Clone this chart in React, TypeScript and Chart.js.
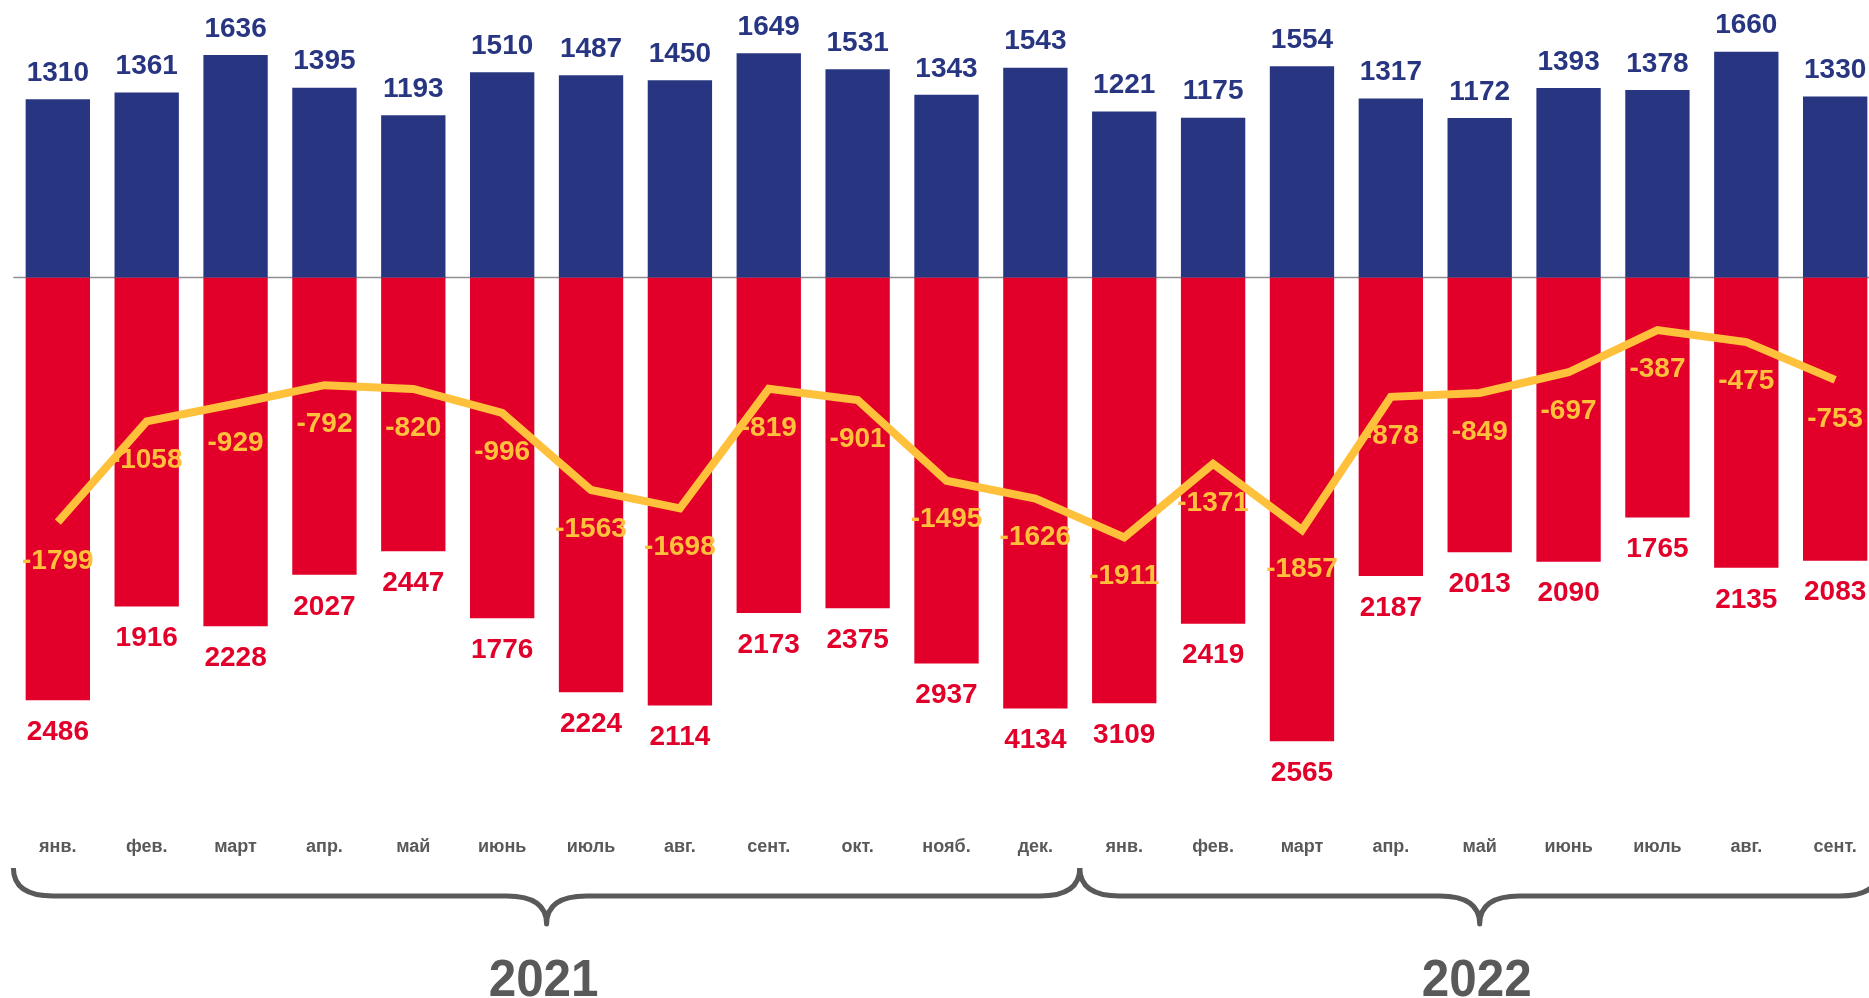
import React, { useEffect, useRef } from 'react';
import { Chart, registerables } from 'chart.js';

Chart.register(...registerables);

// ---- data ----
const months = ['янв.', 'фев.', 'март', 'апр.', 'май', 'июнь', 'июль', 'авг.', 'сент.', 'окт.', 'нояб.', 'дек.',
  'янв.', 'фев.', 'март', 'апр.', 'май', 'июнь', 'июль', 'авг.', 'сент.'];
const years = ['2021', '2022'];
const yearMonthCounts = [12, 9];
const exportValues = [1310, 1361, 1636, 1395, 1193, 1510, 1487, 1450, 1649, 1531, 1343, 1543,
  1221, 1175, 1554, 1317, 1172, 1393, 1378, 1660, 1330];
const importValues = [-3109, -2419, -2565, -2187, -2013, -2506, -3050, -3148, -2468, -2432, -2838, -3169,
  -3132, -2546, -3411, -2195, -2021, -2090, -1765, -2135, -2083];
const importLabels = ['2486', '1916', '2228', '2027', '2447', '1776', '2224', '2114', '2173', '2375', '2937', '4134',
  '3109', '2419', '2565', '2187', '2013', '2090', '1765', '2135', '2083'];
const balanceValues = [-1799, -1058, -929, -792, -820, -996, -1563, -1698, -819, -901, -1495, -1626,
  -1911, -1371, -1857, -878, -849, -697, -387, -475, -753];

const BLUE = '#283682';
const RED = '#E2002B';
const YELLOW = '#FFC13B';
const GREY = '#595959';
const FONT = '"Liberation Sans", Arial, sans-serif';

const labelPlugin = {
  id: 'valueLabels',
  beforeDatasetsDraw(chart: any) {
    const { ctx, chartArea } = chart;
    const y0 = chart.scales.y.getPixelForValue(0);
    ctx.save();
    ctx.strokeStyle = '#8f8f8f';
    ctx.lineWidth = 1.5;
    ctx.beginPath();
    ctx.moveTo(chartArea.left, y0);
    ctx.lineTo(chartArea.right, y0);
    ctx.stroke();
    ctx.restore();
  },
  afterDatasetsDraw(chart: any) {
    const ctx = chart.ctx;
    ctx.save();
    ctx.font = `bold 28px ${FONT}`;
    ctx.textAlign = 'center';
    ctx.textBaseline = 'middle';
    const lineMeta = chart.getDatasetMeta(0);
    const blueMeta = chart.getDatasetMeta(1);
    const redMeta = chart.getDatasetMeta(2);
    ctx.fillStyle = BLUE;
    blueMeta.data.forEach((el: any, i: number) => {
      ctx.fillText(String(exportValues[i]), el.x, el.y - 26);
    });
    ctx.fillStyle = RED;
    redMeta.data.forEach((el: any, i: number) => {
      ctx.fillText(importLabels[i], el.x, el.y + 32);
    });
    ctx.fillStyle = YELLOW;
    lineMeta.data.forEach((el: any, i: number) => {
      ctx.fillText(String(balanceValues[i]), el.x, el.y + 39);
    });
    ctx.restore();
  },
  afterDraw(chart: any) {
    const { ctx } = chart;
    const x = chart.scales.x;
    const yTop = 868;
    const yMid = 896;
    const yTip = 924;
    const rx = 40;
    let start = 0;
    ctx.save();
    ctx.strokeStyle = GREY;
    ctx.lineWidth = 5;
    ctx.lineJoin = 'round';
    ctx.lineCap = 'butt';
    yearMonthCounts.forEach((n, k) => {
      const xl = x.getPixelForValue(start - 0.5);
      const xr = x.getPixelForValue(start + n - 0.5);
      const xm = (xl + xr) / 2;
      ctx.beginPath();
      ctx.moveTo(xl, yTop);
      ctx.quadraticCurveTo(xl, yMid, xl + rx, yMid);
      ctx.lineTo(xm - rx, yMid);
      ctx.quadraticCurveTo(xm, yMid, xm, yTip);
      ctx.quadraticCurveTo(xm, yMid, xm + rx, yMid);
      ctx.lineTo(xr - rx, yMid);
      ctx.quadraticCurveTo(xr, yMid, xr, yTop);
      ctx.stroke();
      ctx.save();
      ctx.fillStyle = GREY;
      ctx.font = `bold 52px ${FONT}`;
      ctx.textAlign = 'center';
      ctx.textBaseline = 'alphabetic';
      ctx.translate(xm - 3, 996);
      ctx.scale(0.95, 1);
      ctx.fillText(years[k], 0, 0);
      ctx.restore();
      start += n;
    });
    ctx.restore();
  },
};

export default function App() {
  const canvasRef = useRef<HTMLCanvasElement | null>(null);

  useEffect(() => {
    if (!canvasRef.current) return;
    const chart = new Chart(canvasRef.current, {
      type: 'bar',
      data: {
        labels: months,
        datasets: [
          {
            type: 'line',
            label: 'Сальдо',
            data: balanceValues,
            borderColor: YELLOW,
            borderWidth: 8,
            pointRadius: 0,
            tension: 0,
            borderJoinStyle: 'miter',
            borderCapStyle: 'butt',
            order: 0,
          } as any,
          {
            type: 'bar',
            label: 'Экспорт',
            data: exportValues,
            backgroundColor: BLUE,
            grouped: false,
            categoryPercentage: 1,
            barPercentage: 0.724,
            order: 1,
          } as any,
          {
            type: 'bar',
            label: 'Импорт',
            data: importValues,
            backgroundColor: RED,
            grouped: false,
            categoryPercentage: 1,
            barPercentage: 0.724,
            order: 2,
          } as any,
        ],
      },
      options: {
        responsive: true,
        maintainAspectRatio: false,
        animation: false,
        events: [],
        layout: { padding: { left: 13.4, right: 1.4, top: 5.5, bottom: 125 } },
        plugins: { legend: { display: false }, tooltip: { enabled: false } },
        scales: {
          x: {
            grid: { display: false, drawTicks: false },
            border: { display: false },
            ticks: {
              color: GREY,
              font: { family: FONT, size: 18, weight: 'bold' },
              autoSkip: false,
              maxRotation: 0,
              padding: 15,
            },
          },
          y: {
            display: false,
            min: -4000,
            max: 2000,
          },
        },
      },
      plugins: [labelPlugin],
    });
    return () => chart.destroy();
  }, []);

  return (
    <div style={{ position: 'fixed', left: 0, top: 0, width: 1869, height: 998, overflow: 'hidden', background: '#fff' }}>
      <div style={{ position: 'relative', width: 1881, height: 998 }}>
        <canvas ref={canvasRef} />
      </div>
    </div>
  );
}
